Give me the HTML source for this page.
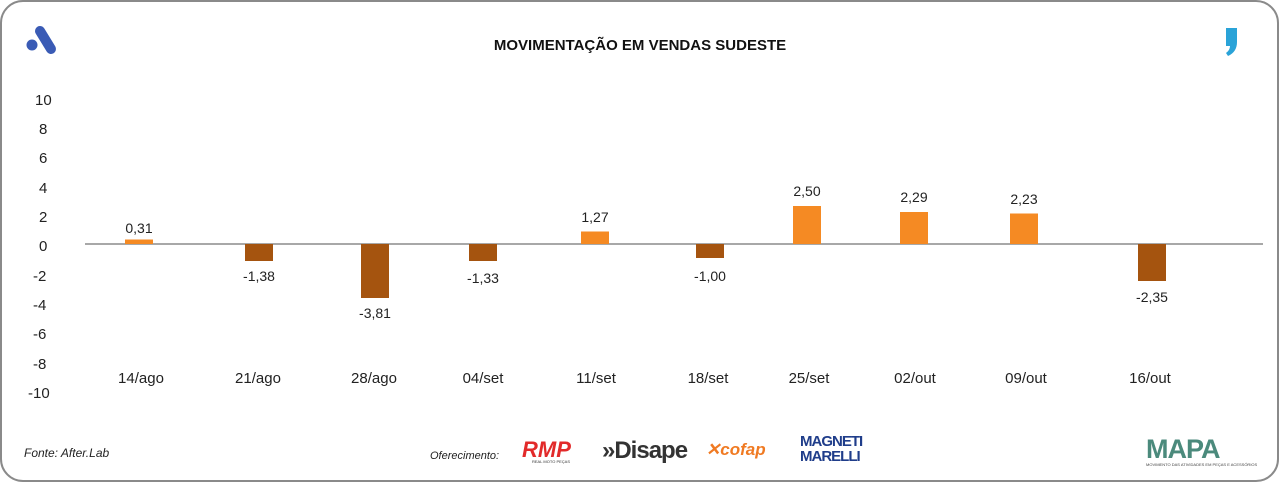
<!DOCTYPE html>
<html><head><meta charset="utf-8"><style>
body{margin:0;width:1280px;height:483px;background:#fff;font-family:"Liberation Sans",sans-serif;overflow:hidden}
</style></head><body>
<svg width="1280" height="483" xmlns="http://www.w3.org/2000/svg" font-family="Liberation Sans, sans-serif">
<rect x="1" y="1" width="1277" height="480" rx="22" fill="#fff" stroke="#8a8a8a" stroke-width="2"/>
<!-- left logo -->
<line x1="40" y1="31" x2="51" y2="49" stroke="#3a5bb5" stroke-width="10" stroke-linecap="round"/>
<circle cx="32" cy="45" r="5.5" fill="#3a5bb5"/>
<!-- right logo -->
<path d="M1226 28 h11 v14 q0 10 -9 14 l-2 -3 q4 -3 4 -7 h-4z" fill="#2aa3d8"/>
<text x="640" y="50" text-anchor="middle" font-size="15" font-weight="bold" fill="#111">MOVIMENTAÇÃO EM VENDAS SUDESTE</text>
<g font-size="15" fill="#222" text-anchor="start">
<text x="35" y="105">10</text><text x="39" y="134">8</text><text x="39" y="163">6</text><text x="39" y="193">4</text><text x="39" y="222">2</text><text x="39" y="251">0</text><text x="33" y="281">-2</text><text x="33" y="310">-4</text><text x="33" y="339">-6</text><text x="33" y="369">-8</text><text x="28" y="398">-10</text>
</g>
<line x1="85" y1="244" x2="1263" y2="244" stroke="#8c8c8c" stroke-width="1.5"/>
<g fill="#f58a23">
<rect x="125" y="239.5" width="28" height="4.5"/>
<rect x="581" y="231.5" width="28" height="12.5"/>
<rect x="793" y="206" width="28" height="38"/>
<rect x="900" y="212" width="28" height="32"/>
<rect x="1010" y="213.5" width="28" height="30.5"/>
</g>
<g fill="#a5540f">
<rect x="245" y="244" width="28" height="17"/>
<rect x="361" y="244" width="28" height="54"/>
<rect x="469" y="244" width="28" height="17"/>
<rect x="696" y="244" width="28" height="14"/>
<rect x="1138" y="244" width="28" height="37"/>
</g>
<g font-size="14" fill="#222" text-anchor="middle">
<text x="139" y="233">0,31</text><text x="259" y="281">-1,38</text><text x="375" y="318">-3,81</text><text x="483" y="283">-1,33</text><text x="595" y="222">1,27</text><text x="710" y="281">-1,00</text><text x="807" y="196">2,50</text><text x="914" y="202">2,29</text><text x="1024" y="204">2,23</text><text x="1152" y="302">-2,35</text>
</g>
<g font-size="15" fill="#222" text-anchor="middle">
<text x="141" y="383">14/ago</text><text x="258" y="383">21/ago</text><text x="374" y="383">28/ago</text><text x="483" y="383">04/set</text><text x="596" y="383">11/set</text><text x="708" y="383">18/set</text><text x="809" y="383">25/set</text><text x="915" y="383">02/out</text><text x="1026" y="383">09/out</text><text x="1150" y="383">16/out</text>
</g>
<text x="24" y="457" font-size="12" font-style="italic" fill="#222">Fonte: After.Lab</text>
<text x="430" y="459" font-size="11" font-style="italic" fill="#222">Oferecimento:</text>
<text x="522" y="457" font-size="22" font-weight="bold" font-style="italic" fill="#e22a2a">RMP</text>
<text x="532" y="463" font-size="4" fill="#333">REAL MOTO PEÇAS</text>
<text x="602" y="458" font-size="24" font-weight="bold" fill="#333" letter-spacing="-1">»Disape</text>
<text x="706" y="455" font-size="17" font-weight="bold" font-style="italic" fill="#f07a22">✕cofap</text>
<text x="800" y="446" font-size="15" font-weight="bold" fill="#1f3d8a" letter-spacing="-1">MAGNETI</text>
<text x="800" y="461" font-size="15" font-weight="bold" fill="#1f3d8a" letter-spacing="-1">MARELLI</text>
<text x="1146" y="458" font-size="27" font-weight="bold" fill="#4b8a7c" letter-spacing="-1">MAPA</text>
<text x="1146" y="466" font-size="4" fill="#444">MOVIMENTO DAS ATIVIDADES EM PEÇAS E ACESSÓRIOS</text>
</svg>
</body></html>
